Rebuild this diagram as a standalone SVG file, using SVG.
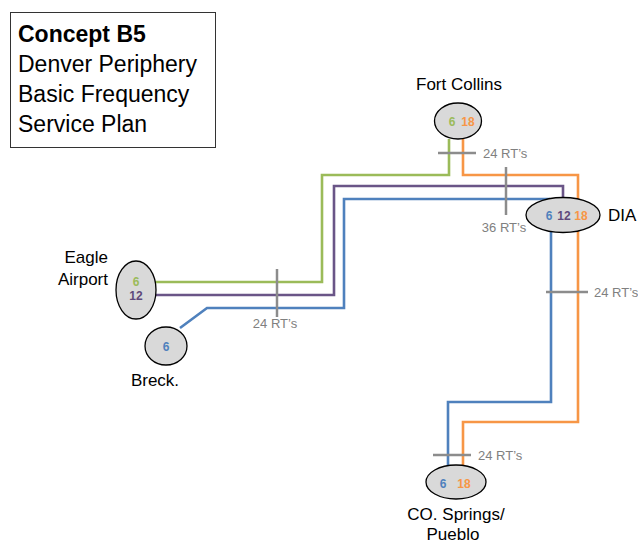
<svg xmlns="http://www.w3.org/2000/svg" width="638" height="546" viewBox="0 0 638 546">
<style>
text{font-family:"Liberation Sans","Open Sans",sans-serif}
.title{font-size:23px;fill:#000}
.lbl{font-size:17px;fill:#000}
.rt{font-size:13px;fill:#808080}
.num{font-size:12px;font-weight:bold}
.node{fill:#d9d9d9;stroke:#000;stroke-width:1.3}
.route{fill:none;stroke-width:2.6;stroke-linejoin:miter}
.g{stroke:#9bbb59}.p{stroke:#6a5587}.b{stroke:#4f81bd}.o{stroke:#f79646}
.tick{stroke:#8c8c8c;stroke-width:2.5}
</style>
<rect x="10.5" y="12.5" width="205" height="135" fill="#fff" stroke="#333" stroke-width="1"/>
<text class="title" x="18" y="42" font-weight="bold">Concept B5</text>
<text class="title" x="18" y="72">Denver Periphery</text>
<text class="title" x="18" y="102">Basic Frequency</text>
<text class="title" x="18" y="132">Service Plan</text>
<g id="connectors">
<polyline class="route g" points="449,139 449,175 322,175 322,282 155,282"/>
<polyline class="route p" points="563,198 563,186 334,186 334,295 155,295"/>
<polyline class="route b" points="180,328 207,308 344,308 344,199 550,199"/>
<polyline class="route b" points="551,232 551,402 448,402 448,466"/>
<polyline class="route o" points="463,139 463,175 578,175 578,422 463,422 463,466"/>
<line class="tick" x1="438" y1="153" x2="476" y2="153"/>
<line class="tick" x1="506" y1="167" x2="506" y2="215"/>
<line class="tick" x1="277" y1="269" x2="277" y2="317"/>
<line class="tick" x1="546" y1="292" x2="588" y2="292"/>
<line class="tick" x1="433" y1="455" x2="471" y2="455"/>
<text class="rt" x="483" y="158">24 RT’s</text>
<text class="rt" x="504" y="232" text-anchor="middle">36 RT’s</text>
<text class="rt" x="275" y="328" text-anchor="middle">24 RT’s</text>
<text class="rt" x="594" y="297">24 RT’s</text>
<text class="rt" x="478" y="460">24 RT’s</text>
</g>
<g id="fort-collins">
<ellipse class="node" cx="458" cy="121" rx="23.5" ry="18"/>
<text class="num" x="452" y="126" fill="#9bbb59" text-anchor="middle">6</text>
<text class="num" x="468" y="126" fill="#f79646" text-anchor="middle">18</text>
<text class="lbl" x="459" y="90" text-anchor="middle">Fort Collins</text>
</g>
<g id="dia">
<ellipse class="node" cx="563" cy="215" rx="37" ry="17.5"/>
<text class="num" x="549" y="220" fill="#4f81bd" text-anchor="middle">6</text>
<text class="num" x="564" y="220" fill="#604a7b" text-anchor="middle">12</text>
<text class="num" x="581" y="220" fill="#f79646" text-anchor="middle">18</text>
<text class="lbl" x="608" y="221" font-size="18">DIA</text>
</g>
<g id="eagle-airport">
<ellipse class="node" cx="136" cy="290" rx="20" ry="29"/>
<text class="num" x="136" y="286" fill="#9bbb59" text-anchor="middle">6</text>
<text class="num" x="136" y="300" fill="#604a7b" text-anchor="middle">12</text>
<text class="lbl" x="108" y="263" text-anchor="end">Eagle</text>
<text class="lbl" x="108" y="285" text-anchor="end">Airport</text>
</g>
<g id="breck">
<ellipse class="node" cx="166" cy="346" rx="21" ry="19"/>
<text class="num" x="166" y="351" fill="#4f81bd" text-anchor="middle">6</text>
<text class="lbl" x="155" y="386" text-anchor="middle">Breck.</text>
</g>
<g id="co-springs">
<ellipse class="node" cx="456" cy="482" rx="30" ry="17"/>
<text class="num" x="443" y="488" fill="#4f81bd" text-anchor="middle">6</text>
<text class="num" x="464" y="488" fill="#f79646" text-anchor="middle">18</text>
<text class="lbl" x="456" y="520" text-anchor="middle">CO. Springs/</text>
<text class="lbl" x="453" y="540" text-anchor="middle">Pueblo</text>
</g>
</svg>
